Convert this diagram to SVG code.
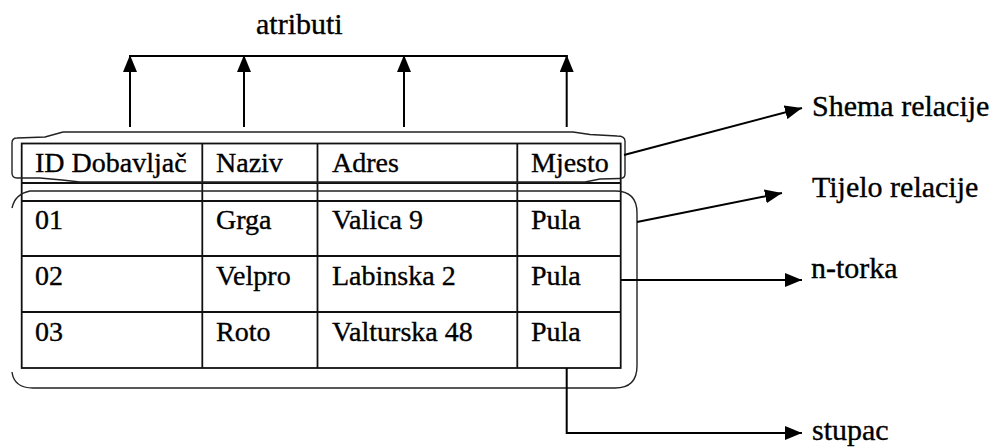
<svg xmlns="http://www.w3.org/2000/svg" width="998" height="448" viewBox="0 0 998 448" font-family="'Liberation Serif', 'Times New Roman', 'DejaVu Serif', serif">
  <defs>
    <marker id="ah" markerUnits="userSpaceOnUse" markerWidth="17" markerHeight="14" refX="17" refY="7" orient="auto">
      <path d="M0,0 L17,7 L0,14 Z" fill="#000"/>
    </marker>
    <style>
      text { font-family: 'Liberation Serif', 'Times New Roman', 'DejaVu Serif', serif; fill: #000; stroke: #000; stroke-width: 0.35; }
      .cell { font-size: 28px; }
      .lbl { font-size: 30px; }
      .grid { stroke: #111; stroke-width: 1.8; fill: none; }
      .brk { stroke: #222; stroke-width: 1.4; fill: none; }
      .con { stroke: #000; stroke-width: 2; fill: none; }
      .conA { stroke: #000; stroke-width: 2; fill: none; marker-end: url(#ah); }
    </style>
  </defs>
  <rect width="998" height="448" fill="#fff"/>

  <g id="label-atributi">
    <text class="lbl" x="256" y="34">atributi</text>
  </g>

  <g id="table">
    <rect class="grid" x="21.7" y="143.5" width="599" height="224.5"/>
    <line class="grid" x1="202.3" y1="143.5" x2="202.3" y2="368"/>
    <line class="grid" x1="317.5" y1="143.5" x2="317.5" y2="368"/>
    <line class="grid" x1="517.3" y1="143.5" x2="517.3" y2="368"/>
    <line class="grid" x1="21.7" y1="183" x2="620.7" y2="183"/>
    <line class="grid" x1="21.7" y1="201" x2="620.7" y2="201"/>
    <line class="grid" x1="21.7" y1="256" x2="620.7" y2="256"/>
    <line class="grid" x1="21.7" y1="312" x2="620.7" y2="312"/>
    <g id="header">
      <text class="cell" x="35" y="172">ID Dobavljač</text>
      <text class="cell" x="216" y="172">Naziv</text>
      <text class="cell" x="332" y="172">Adres</text>
      <text class="cell" x="531" y="172">Mjesto</text>
    </g>
    <g id="row1">
      <text class="cell" x="35" y="228.5">01</text>
      <text class="cell" x="216" y="228.5">Grga</text>
      <text class="cell" x="332" y="228.5">Valica 9</text>
      <text class="cell" x="531" y="228.5">Pula</text>
    </g>
    <g id="row2">
      <text class="cell" x="35" y="284.5">02</text>
      <text class="cell" x="216" y="284.5">Velpro</text>
      <text class="cell" x="332" y="284.5">Labinska 2</text>
      <text class="cell" x="531" y="284.5">Pula</text>
    </g>
    <g id="row3">
      <text class="cell" x="35" y="340.5">03</text>
      <text class="cell" x="216" y="340.5">Roto</text>
      <text class="cell" x="332" y="340.5">Valturska 48</text>
      <text class="cell" x="531" y="340.5">Pula</text>
    </g>
  </g>

  <g id="bracket-shema">
    <path class="brk" d="M63,132 L573,132 L590,134.5 L617,136 Q625,136 625,141 L625,174 Q625,178.5 620,178.5 L600,179 L585,182 L80,182 L62,180 L40,178 L17,178 Q12,178 12,173 L12,143 Q12,138 17,138 L45,137 L63,132"/>
  </g>

  <g id="bracket-tijelo">
    <path class="brk" d="M12,208 Q15,194 30,191 L615,191 Q637,191 637,213 L637,366 Q637,388 615,388 L33,388 Q14,388 12,372"/>
  </g>

  <g id="label-shema">
    <text class="lbl" x="812" y="116">Shema relacije</text>
  </g>
  <g id="label-tijelo">
    <text class="lbl" x="812" y="197">Tijelo relacije</text>
  </g>
  <g id="label-ntorka">
    <text class="lbl" x="811" y="278">n-torka</text>
  </g>
  <g id="label-stupac">
    <text class="lbl" x="812" y="440">stupac</text>
  </g>

  <g id="connectors">
    <line class="con" x1="129" y1="56" x2="567.7" y2="56"/>
    <line class="conA" x1="130" y1="127" x2="130" y2="55"/>
    <line class="conA" x1="244" y1="127" x2="244" y2="55"/>
    <line class="conA" x1="404" y1="127" x2="404" y2="55"/>
    <line class="conA" x1="566.7" y1="127" x2="566.7" y2="55"/>
    <line class="conA" x1="624" y1="155" x2="802" y2="108"/>
    <line class="conA" x1="637" y1="222" x2="782" y2="193"/>
    <line class="conA" x1="621" y1="280" x2="802" y2="280"/>
    <path class="conA" d="M566.7,368 L566.7,433 L802,433"/>
  </g>
</svg>
